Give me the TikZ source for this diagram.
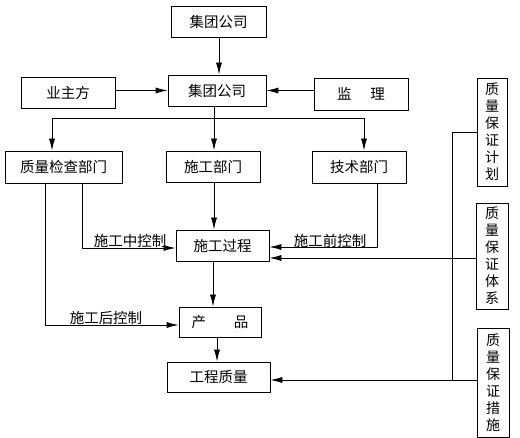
\documentclass[tikz,border=0pt]{standalone}
\usepackage{fontspec}
\newfontfamily\cjk{Noto Sans CJK SC}
\usetikzlibrary{arrows.meta}
\begin{document}
\begin{tikzpicture}[x=1pt,y=-1pt,
  box/.style={draw,line width=0.8pt,inner sep=0pt,font=\cjk\fontsize{14.5}{16}\selectfont},
  vbox/.style={box,align=center,font=\cjk\fontsize{14}{17}\selectfont},
  lbl/.style={inner sep=0pt,font=\cjk\fontsize{14.5}{16}\selectfont},
  ln/.style={line width=0.8pt},
  arr/.style={line width=0.8pt,-{Latex[length=12pt,width=6pt]}}]
\useasboundingbox (0,0) rectangle (520,438);
\node[box,minimum width=95pt,minimum height=31pt] (top) at (218.5,21.5) {集团公司};
\node[box,minimum width=98pt,minimum height=31pt] (mid) at (217,90.5) {集团公司};
\node[box,minimum width=94pt,minimum height=31pt] (owner) at (68,92.5) {业主方};
\node[box,minimum width=94pt,minimum height=32pt] (jianli) at (361,94) {监\hspace{1.3em}理};
\node[box,minimum width=117pt,minimum height=32pt] (zljc) at (63.5,167) {质量检查部门};
\node[box,minimum width=94pt,minimum height=31pt] (sgbm) at (213,166.5) {施工部门};
\node[box,minimum width=94pt,minimum height=32pt] (jsbm) at (359,167) {技术部门};
\node[vbox,minimum width=30pt,minimum height=108pt] (jihua) at (492,132) {质\\量\\保\\证\\计\\划};
\node[vbox,minimum width=32pt,minimum height=106pt] (tixi) at (492,256) {质\\量\\保\\证\\体\\系};
\node[vbox,minimum width=32pt,minimum height=109pt] (cuoshi) at (493,382.5) {质\\量\\保\\证\\措\\施};
\node[box,minimum width=93pt,minimum height=31pt] (sggc) at (222.5,245.5) {施工过程};
\node[box,minimum width=82pt,minimum height=30pt] (cp) at (220,322) {产\hspace{1.9em}品};
\node[box,minimum width=103pt,minimum height=30pt] (gczl) at (218.5,377) {工程质量};
\node[lbl] (l1) at (130,241) {施工中控制};
\node[lbl] (l2) at (330,241) {施工前控制};
\node[lbl] (l3) at (106,318) {施工后控制};
\coordinate (b0) at (214,118);
\coordinate (b1) at (52,118);
\coordinate (b3) at (364,118);
\coordinate (c1) at (82,248);
\coordinate (c2) at (45,325);
\coordinate (c3) at (377,247);
\coordinate (c4) at (213,0);
\coordinate (c5) at (217,0);
\coordinate (c6) at (470,258);
\coordinate (q) at (452,132);
\coordinate (q2) at (452,380);
\draw[arr] (top.south -| 219,0) -- (mid.north -| 219,0);
\draw[arr] (owner.east |- mid) -- (mid.west);
\draw[arr] (jianli.west |- mid) -- (mid.east);
\draw[ln] (mid.south -| b0) -- (b0);
\draw[arr] (b0) -- (b1) -- (b1 |- zljc.north);
\draw[arr] (b0) -- (b0 |- sgbm.north);
\draw[arr] (b0) -- (b3) -- (b3 |- jsbm.north);
\draw[arr] (b0 |- sgbm.south) -- (b0 |- sggc.north);
\draw[arr] (c1 |- zljc.south) -- (c1) -- (c1 -| sggc.west);
\draw[arr] (c2 |- zljc.south) -- (c2) -- (c2 -| cp.west);
\draw[arr] (c3 |- jsbm.south) -- (c3) -- (c3 -| sggc.east);
\draw[arr] (sggc.south -| c4) -- (c4 |- cp.north);
\draw[arr] (cp.south -| c5) -- (c5 |- gczl.north);
\draw[ln] (jihua.west) -- (q) -- (q2);
\draw[arr] (tixi.west |- c6) -- (sggc.east |- c6);
\draw[arr] (cuoshi.west |- q2) -- (gczl.east |- q2);
\end{tikzpicture}
\end{document}
